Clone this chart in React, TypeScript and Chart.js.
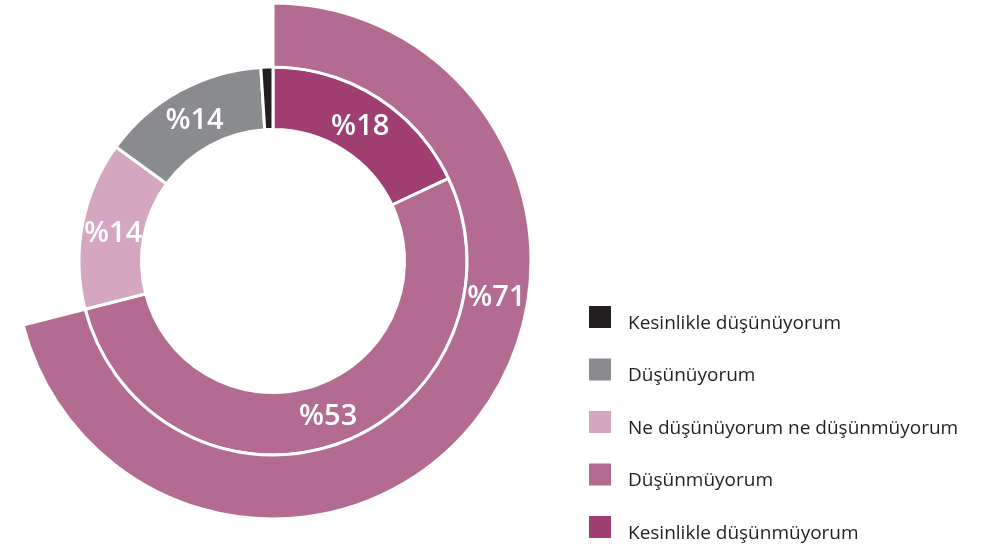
import React, { useEffect, useRef } from "react";
import { Chart, registerables } from "chart.js";

Chart.register(...registerables);

// Inner ring (clockwise from 12 o'clock)
const categories = [
  "Kesinlikle düşünmüyorum",
  "Düşünmüyorum",
  "Ne düşünüyorum ne düşünmüyorum",
  "Düşünüyorum",
  "Kesinlikle düşünüyorum",
];
const innerValues = [18, 53, 14, 14, 1];
const innerLabels = ["%18", "%53", "%14", "%14", ""];
const innerColors = ["#a03e72", "#b36b91", "#d4a6c0", "#8a8b8e", "#231f20"];

// Outer ring: combined "no" answers, rest left empty
const outerValues = [71, 29];
const outerLabels = ["%71", ""];
const outerColors = ["#b36b91", "rgba(0,0,0,0)"];
const outerLabelAngleFraction = 0.386;

// Legend order (top to bottom)
const legendOrder = [4, 3, 2, 1, 0];

const labelPlugin = {
  id: "sliceLabels",
  afterDatasetsDraw(chart: any) {
    const ctx = chart.ctx;
    ctx.save();
    ctx.fillStyle = "#ffffff";
    ctx.font = "600 29px 'Open Sans'";
    ctx.textAlign = "center";
    ctx.textBaseline = "alphabetic";
    const dy = 11;
    const outerMeta = chart.getDatasetMeta(0);
    outerMeta.data.forEach((arc: any, i: number) => {
      const text = outerLabels[i];
      if (!text) return;
      const p = arc.getProps(["x", "y", "startAngle", "endAngle", "innerRadius", "outerRadius"], true);
      const a = p.startAngle + (p.endAngle - p.startAngle) * outerLabelAngleFraction;
      const r = (p.innerRadius + p.outerRadius) / 2;
      ctx.fillText(text, p.x + Math.cos(a) * r, p.y + Math.sin(a) * r + dy);
    });
    const innerMeta = chart.getDatasetMeta(1);
    innerMeta.data.forEach((arc: any, i: number) => {
      const text = innerLabels[i];
      if (!text) return;
      const pos = arc.tooltipPosition(true);
      ctx.fillText(text, pos.x, pos.y + dy);
    });
    ctx.restore();
  },
};

const legendPlugin = {
  id: "customLegend",
  afterDraw(chart: any) {
    const ctx = chart.ctx;
    ctx.save();
    const boxX = 589;
    const boxSize = 22;
    const textX = 628;
    const top = 306;
    const step = 52.5;
    ctx.font = "19px 'Open Sans'";
    ctx.textBaseline = "alphabetic";
    ctx.textAlign = "left";
    legendOrder.forEach((idx, row) => {
      const y = top + row * step;
      ctx.fillStyle = innerColors[idx];
      ctx.fillRect(boxX, y, boxSize, boxSize);
      ctx.fillStyle = "#231f20";
      ctx.fillText(categories[idx], textX, y + boxSize + 0.5);
    });
    ctx.restore();
  },
};

export default function App() {
  const ref = useRef<HTMLCanvasElement>(null);
  useEffect(() => {
    if (!ref.current) return;
    const chart = new Chart(ref.current, {
      type: "doughnut",
      data: {
        labels: categories,
        datasets: [
          {
            data: outerValues,
            backgroundColor: outerColors,
            borderColor: "#ffffff",
            borderWidth: [3, 0],
            weight: 64,
            hoverOffset: 0,
          },
          {
            data: innerValues,
            backgroundColor: innerColors,
            borderColor: "#ffffff",
            borderWidth: 3,
            weight: 62.5,
            hoverOffset: 0,
          },
        ],
      },
      options: {
        animation: false,
        responsive: false,
        radius: 258,
        cutout: "50.97%",
        layout: { padding: { left: 0, top: 0, right: 446, bottom: 25 } },
        plugins: {
          legend: { display: false },
          tooltip: { enabled: false },
        },
        events: [],
      } as any,
      plugins: [labelPlugin, legendPlugin],
    });
    return () => chart.destroy();
  }, []);
  return (
    <div style={{ position: "fixed", left: 0, top: 0, width: 992, height: 547, background: "#fff" }}>
      <canvas ref={ref} width={992} height={547} />
    </div>
  );
}
